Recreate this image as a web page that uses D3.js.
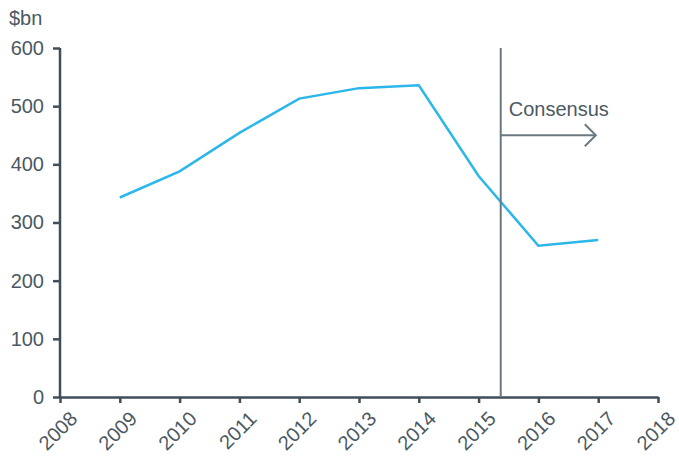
<!DOCTYPE html>
<html>
<head>
<meta charset="utf-8">
<script src="https://d3js.org/d3.v7.min.js"></script>
<style>
  body { margin: 0; background: #fff; }
  text { font-family: "Liberation Sans", Arial, sans-serif; fill: #4b5963; }
  .axis path, .axis line { stroke: #3f4e58; stroke-width: 2.5px; }
  .axis text { font-size: 20px; }
</style>
</head>
<body>
<script>
// data
var years = [2009, 2010, 2011, 2012, 2013, 2014, 2015, 2016, 2017];
var values = [343, 388, 454, 513, 531, 536, 380, 260, 270];
var xTicks = [2008, 2009, 2010, 2011, 2012, 2013, 2014, 2015, 2016, 2017, 2018];
var yTicks = [0, 100, 200, 300, 400, 500, 600];
var consensusStart = 2015.37;
var consensusEnd = 2016.96;
var consensusLevel = 450;

var width = 679, height = 456;
var margin = { top: 48, right: 21, bottom: 59, left: 60 };

var svg = d3.select("body").append("svg")
    .attr("width", width)
    .attr("height", height);

var x = d3.scaleLinear().domain([2008, 2018]).range([margin.left, width - margin.right]);
var y = d3.scaleLinear().domain([0, 600]).range([height - margin.bottom, margin.top]);

// y axis
var yAxis = svg.append("g")
    .attr("class", "axis")
    .attr("transform", "translate(" + margin.left + ",0)")
    .call(d3.axisLeft(y).tickValues(yTicks).tickSize(7).tickPadding(9).tickSizeOuter(0));
yAxis.select(".domain").attr("d", "M0," + y(0) + "V" + y(600));

// x axis
var xAxis = svg.append("g")
    .attr("class", "axis")
    .attr("transform", "translate(0," + y(0) + ")")
    .call(d3.axisBottom(x).tickValues(xTicks).tickFormat(d3.format("d")).tickSize(6).tickSizeOuter(0));
xAxis.selectAll("text")
    .attr("text-anchor", "end")
    .attr("dy", null)
    .attr("y", 0)
    .attr("transform", "translate(18,23) rotate(-45)");

// unit label
svg.append("text")
    .attr("x", 9)
    .attr("y", 25)
    .style("font-size", "20px")
    .text("$bn");

// series line
svg.append("path")
    .datum(years.map(function (d, i) { return [d, values[i]]; }))
    .attr("fill", "none")
    .attr("stroke", "#2bb7ea")
    .attr("stroke-width", 2.5)
    .attr("d", d3.line().x(function (d) { return x(d[0]); }).y(function (d) { return y(d[1]); }));

// consensus marker
var cx = x(consensusStart);
svg.append("line")
    .attr("x1", cx).attr("x2", cx)
    .attr("y1", y(600)).attr("y2", y(0))
    .attr("stroke", "#6b7882").attr("stroke-width", 2);

var ay = y(consensusLevel);
var ax2 = x(consensusEnd);
svg.append("line")
    .attr("x1", cx).attr("x2", ax2)
    .attr("y1", ay).attr("y2", ay)
    .attr("stroke", "#6b7882").attr("stroke-width", 2);
svg.append("path")
    .attr("d", "M" + (ax2 - 11) + "," + (ay - 11) + "L" + ax2 + "," + ay + "L" + (ax2 - 11) + "," + (ay + 11))
    .attr("fill", "none")
    .attr("stroke", "#6b7882").attr("stroke-width", 2);

svg.append("text")
    .attr("x", cx + 8)
    .attr("y", ay - 19.5)
    .style("font-size", "20px")
    .text("Consensus");
</script>
</body>
</html>
